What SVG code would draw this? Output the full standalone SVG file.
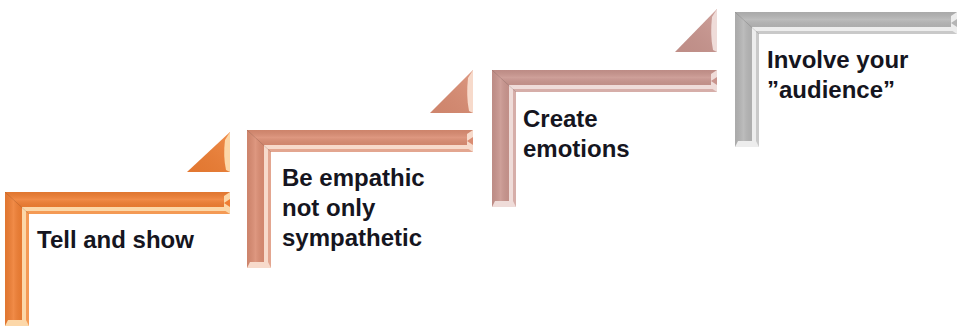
<svg xmlns="http://www.w3.org/2000/svg" width="957" height="326" viewBox="0 0 957 326">
<defs>
  <linearGradient id="shadeH" x1="0" y1="0" x2="0" y2="1">
    <stop offset="0" stop-color="#000" stop-opacity="0.06"/>
    <stop offset="0.5" stop-color="#fff" stop-opacity="0.10"/>
    <stop offset="1" stop-color="#000" stop-opacity="0.04"/>
  </linearGradient>
  <linearGradient id="shadeV" x1="0" y1="0" x2="1" y2="0">
    <stop offset="0" stop-color="#000" stop-opacity="0.06"/>
    <stop offset="0.5" stop-color="#fff" stop-opacity="0.10"/>
    <stop offset="1" stop-color="#000" stop-opacity="0.04"/>
  </linearGradient>
  <linearGradient id="shadeT" x1="0" y1="1" x2="1" y2="0">
    <stop offset="0" stop-color="#000" stop-opacity="0.05"/>
    <stop offset="1" stop-color="#fff" stop-opacity="0.12"/>
  </linearGradient>
</defs>
<style>
  .lbl { font-family: "Liberation Sans", Arial, sans-serif; font-weight: bold; font-size: 24px; fill: #151520; }
  .miter { stroke: #000; stroke-opacity: 0.12; stroke-width: 1; fill: none; }
  .sh { fill: url(#shadeH); } .sv { fill: url(#shadeV); } .st { fill: url(#shadeT); }
  .n1 .base { fill: #EF7E33; } .n1 .lt { fill: #FCD7A8; } .n1 .mid { fill: #F49A55; }
  .n2 .base { fill: #DA8C72; } .n2 .lt { fill: #F7DACB; } .n2 .mid { fill: #E3A690; }
  .n3 .base { fill: #C9958E; } .n3 .lt { fill: #EFDCD9; } .n3 .mid { fill: #D6AEA9; }
  .n4 .base { fill: #B5B5B5; } .n4 .lt { fill: #EDEDED; } .n4 .mid { fill: #C9C9C9; }
</style>
<rect width="957" height="326" fill="#FFFFFF"/>

<g id="step1" class="n1">
  <g transform="translate(5,192)">
    <path class="base" d="M0,0 H225 V22 H24 V134 H0 Z"/>
    <path class="sh" d="M0,0 H225 V15 H17 Z"/>
    <path class="sv" d="M0,0 L17,15 V134 H0 Z"/>
    <path class="mid" d="M17,15 H221 L225,22 H24 V134 H17 Z"/>
    <path class="lt" d="M17,15 H221 L223,19 H21 V134 H17 Z"/>
    <path class="miter" d="M0,0 L24,22"/>
    <path class="lt" d="M219,4 L225,0 V22 L219,18 Z"/>
    <path class="base" d="M225,7 L219,11 L225,15 Z"/>
    <path class="lt" d="M3,128 H21 L24,134 H0 Z"/>
    <path class="base" d="M182,-20 H225 V-60 Z"/>
    <path class="st" d="M182,-20 H225 V-60 Z"/>
    <path class="lt" d="M220,-52 L225,-60 V-20 L221,-22 Q218,-36 220,-52 Z"/>
  </g>
  <text class="lbl" x="37" y="248">Tell and show</text>
</g>

<g id="step2" class="n2">
  <g transform="translate(247,130)">
    <path class="base" d="M0,0 H226 V22 H24 V138 H0 Z"/>
    <path class="sh" d="M0,0 H226 V15 H17 Z"/>
    <path class="sv" d="M0,0 L17,15 V138 H0 Z"/>
    <path class="mid" d="M17,15 H222 L226,22 H24 V138 H17 Z"/>
    <path class="lt" d="M17,15 H222 L224,19 H21 V138 H17 Z"/>
    <path class="miter" d="M0,0 L24,22"/>
    <path class="lt" d="M220,4 L226,0 V22 L220,18 Z"/>
    <path class="base" d="M226,7 L220,11 L226,15 Z"/>
    <path class="lt" d="M3,132 H21 L24,138 H0 Z"/>
    <path class="base" d="M183,-17 H226 V-60 Z"/>
    <path class="st" d="M183,-17 H226 V-60 Z"/>
    <path class="lt" d="M221,-52 L226,-60 V-17 L222,-19 Q219,-34 221,-52 Z"/>
  </g>
  <text class="lbl" x="282" y="186">Be empathic</text>
  <text class="lbl" x="282" y="216">not only</text>
  <text class="lbl" x="282" y="246">sympathetic</text>
</g>

<g id="step3" class="n3">
  <g transform="translate(492,70)">
    <path class="base" d="M0,0 H225 V22 H24 V137 H0 Z"/>
    <path class="sh" d="M0,0 H225 V15 H17 Z"/>
    <path class="sv" d="M0,0 L17,15 V137 H0 Z"/>
    <path class="mid" d="M17,15 H221 L225,22 H24 V137 H17 Z"/>
    <path class="lt" d="M17,15 H221 L223,19 H21 V137 H17 Z"/>
    <path class="miter" d="M0,0 L24,22"/>
    <path class="lt" d="M219,4 L225,0 V22 L219,18 Z"/>
    <path class="base" d="M225,7 L219,11 L225,15 Z"/>
    <path class="lt" d="M3,131 H21 L24,137 H0 Z"/>
    <path class="base" d="M183,-18 H225 V-61 Z"/>
    <path class="st" d="M183,-18 H225 V-61 Z"/>
    <path class="lt" d="M220,-53 L225,-61 V-18 L221,-20 Q218,-35 220,-53 Z"/>
  </g>
  <text class="lbl" x="523" y="127">Create</text>
  <text class="lbl" x="523" y="157">emotions</text>
</g>

<g id="step4" class="n4">
  <g transform="translate(735,12)">
    <path class="base" d="M0,0 H222 V22 H24 V135 H0 Z"/>
    <path class="sh" d="M0,0 H222 V15 H17 Z"/>
    <path class="sv" d="M0,0 L17,15 V135 H0 Z"/>
    <path class="mid" d="M17,15 H218 L222,22 H24 V135 H17 Z"/>
    <path class="lt" d="M17,15 H218 L220,19 H21 V135 H17 Z"/>
    <path class="miter" d="M0,0 L24,22"/>
    <path class="lt" d="M216,4 L222,0 V22 L216,18 Z"/>
    <path class="base" d="M222,7 L216,11 L222,15 Z"/>
    <path class="lt" d="M3,129 H21 L24,135 H0 Z"/>
  </g>
  <text class="lbl" x="767" y="68">Involve your</text>
  <text class="lbl" x="767" y="98">”audience”</text>
</g>

<g id="connectors"></g>
</svg>
